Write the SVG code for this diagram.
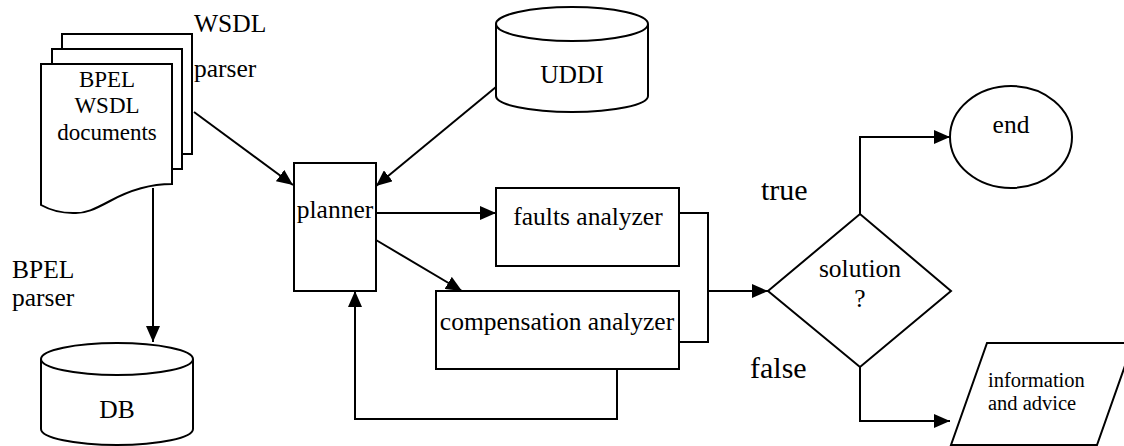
<svg xmlns="http://www.w3.org/2000/svg" width="1124" height="446" viewBox="0 0 1124 446">
  <style>
    .shape { fill: #fff; stroke: #000; stroke-width: 2; }
    .line { fill: none; stroke: #000; stroke-width: 2; }
    .t { font-size: 25.5px; }
    .doc { font-size: 23px; }
    .small { font-size: 20.5px; }
    .big { font-size: 30px; }
    .mid { text-anchor: middle; }
  </style>
  <defs>
    <marker id="arrow" markerWidth="16" markerHeight="14" refX="16" refY="7" orient="auto" markerUnits="userSpaceOnUse">
      <path d="M0,0 L16,7 L0,14 Z" fill="#000"/>
    </marker>
  </defs>

  <rect width="1124" height="446" fill="#fff"/>

  <!-- connectors -->
  <g id="connectors" class="line">
    <line x1="194" y1="112" x2="293" y2="185" marker-end="url(#arrow)"/>
    <line x1="153" y1="188" x2="153" y2="342" marker-end="url(#arrow)"/>
    <line x1="496" y1="87" x2="376" y2="186" marker-end="url(#arrow)"/>
    <line x1="376" y1="213" x2="496" y2="213" marker-end="url(#arrow)"/>
    <line x1="376" y1="240" x2="462" y2="291" marker-end="url(#arrow)"/>
    <polyline points="679,213 708,213 708,342 679,342"/>
    <line x1="708" y1="291" x2="768" y2="291" marker-end="url(#arrow)"/>
    <polyline points="617,369 617,419 355,419 355,291" marker-end="url(#arrow)"/>
    <polyline points="860,214 860,137 950,137" marker-end="url(#arrow)"/>
    <polyline points="860,367 860,421 950,421" marker-end="url(#arrow)"/>
  </g>

  <g font-family="'Liberation Serif', 'Times New Roman', 'DejaVu Serif', serif" fill="#000">
    <!-- document stack -->
    <g id="documents">
      <rect class="shape" x="62" y="34" width="130" height="120"/>
      <rect class="shape" x="52" y="49" width="130" height="120"/>
      <path class="shape" d="M41,64 H172 V184 C150,184 130,190 110,201 C95,209 85,214 73,213 C60,213 50,210 41,205 Z"/>
      <text class="doc mid" x="107" y="87">BPEL</text>
      <text class="doc mid" x="107" y="113">WSDL</text>
      <text class="doc mid" x="107" y="140">documents</text>
    </g>

    <g id="wsdl-parser-label">
      <text class="t" x="194" y="32">WSDL</text>
      <text class="t" x="194" y="77">parser</text>
    </g>

    <g id="bpel-parser-label">
      <text class="t" x="12" y="278">BPEL</text>
      <text class="t" x="12" y="306">parser</text>
    </g>

    <!-- DB cylinder -->
    <g id="db">
      <path class="shape" d="M41,359 V429 A76,16 0 0 0 193,429 V359"/>
      <ellipse class="shape" cx="117" cy="359" rx="76" ry="16"/>
      <text class="t mid" x="117" y="418">DB</text>
    </g>

    <!-- UDDI cylinder -->
    <g id="uddi">
      <path class="shape" d="M496,24 V96 A76,16 0 0 0 648,96 V24"/>
      <ellipse class="shape" cx="572" cy="24" rx="76" ry="17"/>
      <text class="t mid" x="572" y="83">UDDI</text>
    </g>

    <g id="planner">
      <rect class="shape" x="294" y="163" width="82" height="128"/>
      <text class="t mid" x="335" y="218">planner</text>
    </g>

    <g id="faults-analyzer">
      <rect class="shape" x="496" y="188" width="183" height="78"/>
      <text class="t mid" x="588" y="225">faults analyzer</text>
    </g>

    <g id="compensation-analyzer">
      <rect class="shape" x="436" y="291" width="243" height="78"/>
      <text class="t mid" x="557" y="330">compensation analyzer</text>
    </g>

    <g id="solution">
      <polygon class="shape" points="768,291 860,214 951,291 860,367"/>
      <text class="t mid" x="860" y="277">solution</text>
      <text class="t mid" x="860" y="307">?</text>
    </g>

    <g id="end">
      <ellipse class="shape" cx="1011" cy="137" rx="61" ry="51"/>
      <text class="t mid" x="1011" y="133">end</text>
    </g>

    <g id="information">
      <polygon class="shape" points="987,343 1133,343 1097,445 951,445"/>
      <text class="small" x="988" y="387">information</text>
      <text class="small" x="988" y="410">and advice</text>
    </g>

    <g id="branch-labels">
      <text class="big" x="761" y="200">true</text>
      <text class="big" x="750" y="378">false</text>
    </g>
  </g>
</svg>
